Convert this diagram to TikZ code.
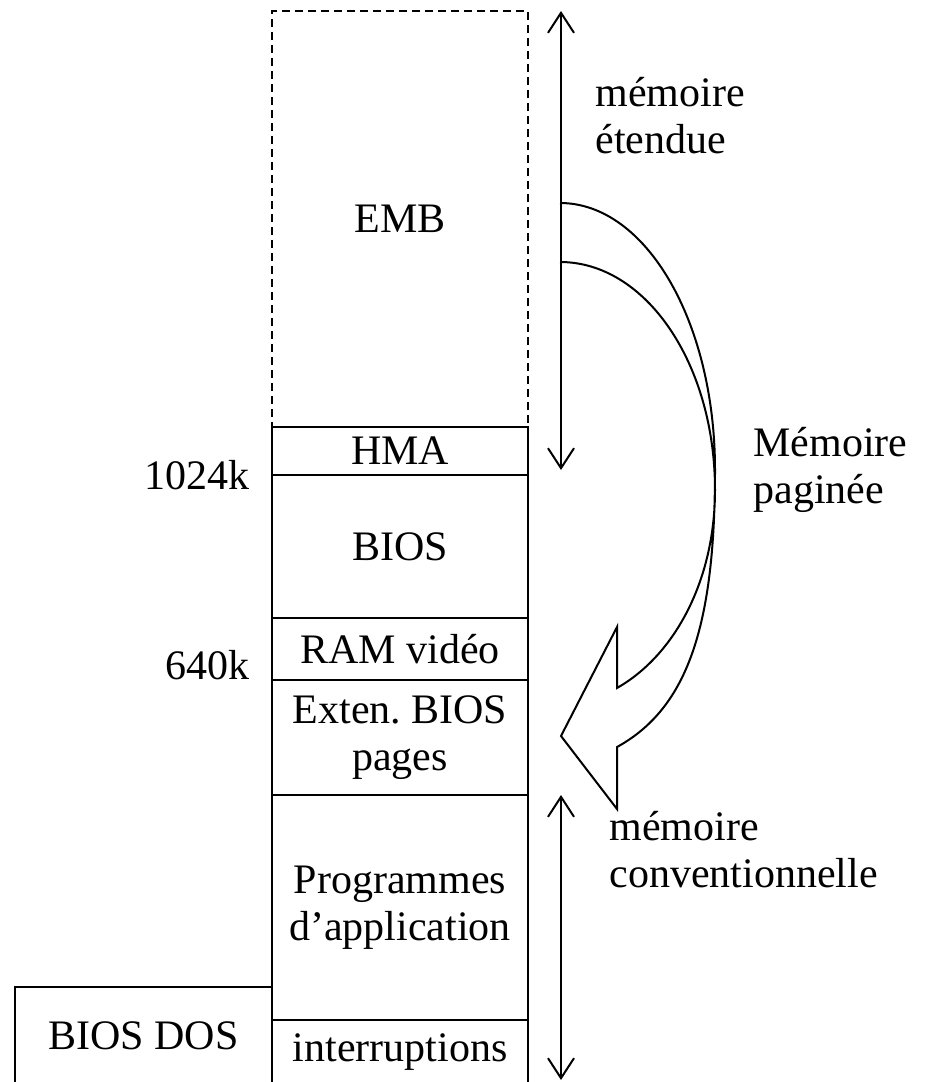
\documentclass[tikz,border=0pt]{standalone}
\usepackage{fontspec}
\setmainfont{Liberation Serif}
\usetikzlibrary{arrows.meta, positioning, calc}

\begin{document}
\begin{tikzpicture}[x=0.5pt, y=-0.5pt, font=\fontsize{21}{23.5}\selectfont,
	bloc/.style={rectangle, draw, line width=1pt, align=center, inner sep=0pt,
		outer sep=0pt, minimum width=128pt},
	fleche/.style={{Straight Barb[length=10pt,width=13pt]}-{Straight Barb[length=10pt,width=13pt]},
		line width=1pt},
	etiquette/.style={align=left, anchor=west, inner sep=0pt}]
	\useasboundingbox (0,0) rectangle (925,1082);
	% colonne memoire
	\node[bloc, dashed, dash pattern=on 4pt off 2.5pt, minimum height=208pt] (emb) at (400,219) {EMB};
	\node[bloc, minimum height=24pt, below=0pt of emb] (hma) {HMA};
	\node[bloc, minimum height=71.5pt, below=0pt of hma] (bios) {BIOS};
	\node[bloc, minimum height=31pt, below=0pt of bios] (ram) {RAM vidéo};
	\node[bloc, minimum height=57.5pt, below=0pt of ram] (exten) {Exten.\ BIOS\\pages};
	\node[bloc, minimum height=112.5pt, below=0pt of exten] (prog) {Programmes\\d’application};
	\node[bloc, minimum height=32pt, below=0pt of prog] (inter) {interruptions};
	\node[bloc, minimum width=128.5pt, minimum height=48.5pt, anchor=south east] (biosdos)
		at (inter.south west) {BIOS DOS};
	% adresses
	\node[inner sep=0pt, left=11pt of hma.south west] (k1024) {1024k};
	\node[inner sep=0pt, anchor=east] (k640) at ($(ram.south west)+(-22,-15)$) {640k};
	% fleches
	\coordinate (etHaut) at (561,11);
	\coordinate (etBas) at (561,470);
	\coordinate (cvHaut) at (561,795);
	\coordinate (cvBas) at (561,1080);
	\draw[fleche] (etBas) -- (etHaut);
	\draw[fleche] (cvBas) -- (cvHaut);
	\node[etiquette] (etendue) at (595,116) {mémoire\\étendue};
	\node[etiquette] (paginee) at (753,470) {Mémoire\\paginée};
	\node[etiquette] (conv) at (609,850) {mémoire\\conventionnelle};
	% fleche courbe
	\draw[line width=1pt] (560,203) .. controls (646,203) and (715,322) .. (715,470)
		.. controls (715,625) and (688,708) .. (617,747) -- (617,809) -- (561,736)
		-- (617,627) -- (617,688) .. controls (675,655) and (715,580) .. (715,490)
		.. controls (715,364) and (646,262) .. (560,262);
\end{tikzpicture}
\end{document}
